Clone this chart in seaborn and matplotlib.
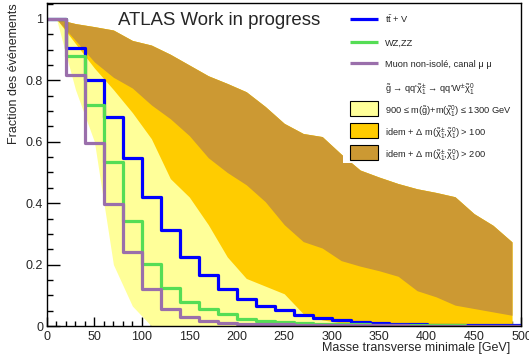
import numpy as np
import pandas as pd
import matplotlib
matplotlib.use("Agg")
import matplotlib.pyplot as plt
from matplotlib.patches import Rectangle
from matplotlib.ticker import MultipleLocator, FuncFormatter
import seaborn as sns

# histogram bins: 20 GeV wide, 0 -> 500 GeV
bin_edges = list(range(0, 520, 20))
bin_centers = list(range(10, 500, 20))

# cumulative fractions per bin
ttv = [1.0, 0.904, 0.801, 0.681, 0.546, 0.421, 0.312, 0.225, 0.165, 0.122,
       0.089, 0.064, 0.051, 0.035, 0.026, 0.019, 0.013, 0.010, 0.008, 0.005,
       0.004, 0.004, 0.003, 0.003, 0.002]
wzzz = [1.0, 0.879, 0.720, 0.535, 0.341, 0.202, 0.124, 0.077, 0.054, 0.038,
        0.024, 0.015, 0.012, 0.010, 0.008, 0.006, 0.005, 0.004, 0.003, 0.003,
        0.002, 0.002, 0.001, 0.001, 0.001]
muon = [1.0, 0.817, 0.595, 0.398, 0.241, 0.122, 0.057, 0.029, 0.016, 0.011,
        0.008, 0.006, 0.005, 0.004, 0.003, 0.003, 0.002, 0.002, 0.002, 0.001,
        0.001, 0.001, 0.001, 0.001, 0.001]

# signal envelopes (evaluated at bin centres)
band_top = [1.0, 0.985, 0.975, 0.964, 0.930, 0.915, 0.885, 0.850, 0.815, 0.790,
            0.763, 0.715, 0.660, 0.627, 0.617, 0.560, 0.508, 0.485, 0.464, 0.447,
            0.435, 0.421, 0.366, 0.328, 0.274]
low_all = [1.0, 0.770, 0.600, 0.200, 0.065, 0.0, 0.0, 0.0, 0.0, 0.0,
           0.0, 0.0, 0.0, 0.0, 0.0, 0.0, 0.0, 0.0, 0.0, 0.0,
           0.0, 0.0, 0.0, 0.0, 0.0]
low_dm100 = [1.0, 0.920, 0.840, 0.770, 0.695, 0.610, 0.480, 0.420, 0.330, 0.225,
             0.155, 0.130, 0.105, 0.040, 0.020, 0.010, 0.008, 0.006, 0.005, 0.004,
             0.003, 0.003, 0.002, 0.002, 0.002]
low_dm200 = [1.0, 0.930, 0.860, 0.810, 0.775, 0.720, 0.675, 0.620, 0.548, 0.500,
             0.460, 0.405, 0.330, 0.275, 0.254, 0.213, 0.195, 0.180, 0.162, 0.115,
             0.095, 0.068, 0.057, 0.046, 0.035]

labels = [
    r"t$\bar{\rm t}$ + V",
    "WZ,ZZ",
    "Muon non-isolé, canal μ μ",
    r"$\tilde{\rm g}$ → qq'$\tilde{\chi}_1^{\pm}$ → qq'W$^{\pm}\tilde{\chi}_1^0$",
    r"900 ≤ m($\tilde{\rm g}$)+m($\tilde{\chi}_1^0$) ≤ 1300 GeV",
    r"idem + Δ m($\tilde{\chi}_1^{\pm}$,$\tilde{\chi}_1^0$) > 100",
    r"idem + Δ m($\tilde{\chi}_1^{\pm}$,$\tilde{\chi}_1^0$) > 200",
]

c_ttv = "#0000ff"
c_wz = "#55dd55"
c_mu = "#9a6fab"
c_band = ["#ffff99", "#ffcc00", "#cc9933"]

sns.set_style("ticks")
plt.rcParams["font.family"] = ["Liberation Sans", "DejaVu Sans"]
plt.rcParams["mathtext.fontset"] = "custom"
plt.rcParams["mathtext.rm"] = "Liberation Sans"
plt.rcParams["mathtext.it"] = "Liberation Sans"
plt.rcParams["mathtext.bf"] = "Liberation Sans:bold"

fig = plt.figure(figsize=(5.29, 3.62), dpi=100)
ax = fig.add_axes([0.0888, 0.0994, 0.8970, 0.8923])

env = pd.DataFrame({"x": bin_centers, "top": band_top,
                    "l1": low_all, "l2": low_dm100, "l3": low_dm200})
ax.fill_between(env["x"], env["l1"], env["top"], color=c_band[0], lw=0)
ax.fill_between(env["x"], env["l2"], env["top"], color=c_band[1], lw=0)
ax.fill_between(env["x"], env["l3"], env["top"], color=c_band[2], lw=0)

hist = pd.DataFrame({"x": bin_centers, "ttv": ttv, "wz": wzzz, "mu": muon})
for col, c in [("ttv", c_ttv), ("wz", c_wz), ("mu", c_mu)]:
    sns.histplot(data=hist, x="x", weights=col, bins=bin_edges, element="step",
                 fill=False, color=c, linewidth=2.3, ax=ax)

ax.set_xlim(0, 500)
ax.set_ylim(0, 1.052)

ax.xaxis.set_major_locator(MultipleLocator(50))
ax.xaxis.set_minor_locator(MultipleLocator(10))
ax.yaxis.set_major_locator(MultipleLocator(0.2))
ax.yaxis.set_minor_locator(MultipleLocator(0.05))
ax.yaxis.set_major_formatter(FuncFormatter(lambda v, p: "%g" % round(v, 2)))
ax.tick_params(axis="both", which="both", direction="in", width=1, color="black",
               labelsize=9, top=False, right=False)
ax.tick_params(axis="x", which="major", length=6.5, pad=3.5)
ax.tick_params(axis="x", which="minor", length=3.6)
ax.tick_params(axis="y", which="major", length=9.4, pad=2.7)
ax.tick_params(axis="y", which="minor", length=4.3)
for s in ax.spines.values():
    s.set_color("black")
    s.set_linewidth(1.0)
    s.set_visible(True)
    s.set_zorder(10)

ax.set_xlabel("Masse transverse minimale [GeV]", fontsize=9, loc="right")
ax.xaxis.set_label_coords(0.976, -0.05)
ax.set_ylabel("Fraction des événements", fontsize=9, loc="top")
ax.yaxis.set_label_coords(-0.057, 1.0)

ax.text(0.15, 0.947, "ATLAS Work in progress", transform=ax.transAxes,
        fontsize=13.4, va="center", ha="left")

# ROOT-style legend: white pad, keys and texts row by row (axes coords)
ax.add_patch(Rectangle((0.624, 0.505), 0.376, 0.495, transform=ax.transAxes,
                       facecolor="white", edgecolor="none", zorder=4))
keys = [("line", c_ttv), ("line", c_wz), ("line", c_mu), (None, None),
        ("box", c_band[0]), ("box", c_band[1]), ("box", c_band[2])]
row_y = [0.952, 0.879, 0.813, 0.740, 0.674, 0.604, 0.536]
key_x0, key_x1, text_x = 0.6386, 0.6976, 0.7123
box_h = 0.046
for (kind, c), y, lab in zip(keys, row_y, labels):
    if kind == "line":
        ax.plot([key_x0, key_x1], [y, y], color=c, lw=2.3,
                transform=ax.transAxes, zorder=6, solid_capstyle="butt")
    elif kind == "box":
        ax.add_patch(Rectangle((key_x0, y - box_h / 2), key_x1 - key_x0, box_h,
                               transform=ax.transAxes, facecolor=c,
                               edgecolor="black", lw=0.8, zorder=6))
    ax.text(text_x, y, lab, transform=ax.transAxes, fontsize=6.7,
            va="center_baseline", ha="left", zorder=6)

fig.savefig("out.png", dpi=100)
